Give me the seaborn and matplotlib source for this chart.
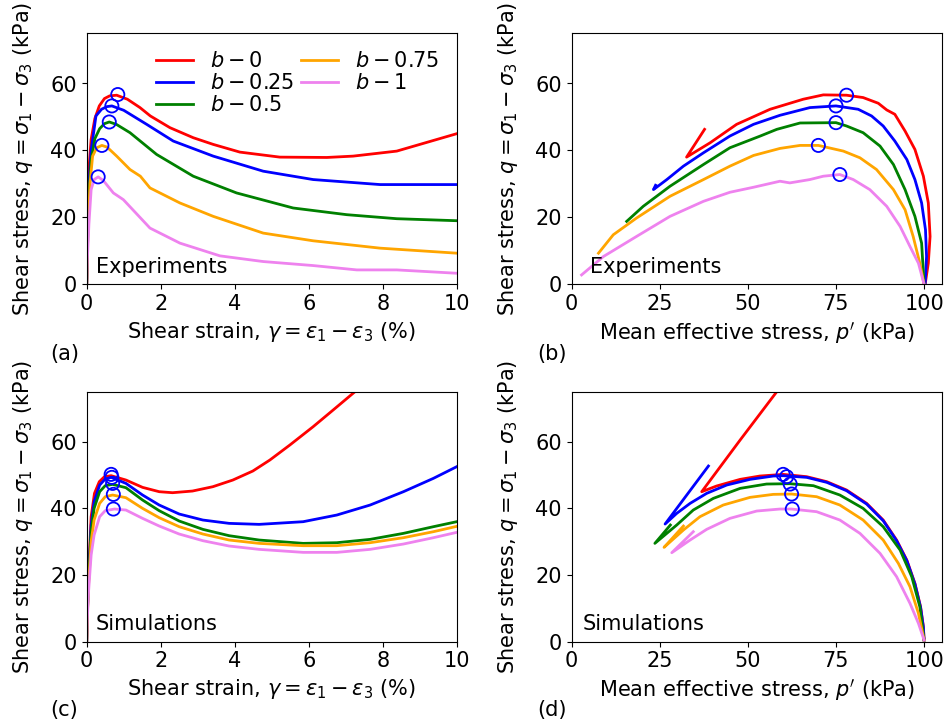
import numpy as np
import pandas as pd
import matplotlib
matplotlib.use("Agg")
import matplotlib.pyplot as plt
import seaborn as sns

labels = ["$b-0$", "$b-0.25$", "$b-0.5$", "$b-0.75$", "$b-1$"]
colors = ["red", "blue", "green", "orange", "violet"]

# ---------- (a) experiments: strain vs q ----------
exp_g_b0 = [0, 0.05, 0.12, 0.22, 0.34, 0.48, 0.62, 0.81, 1.1, 1.44, 1.72, 2.25, 2.88, 3.42, 4.14, 5.22, 6.49, 7.2, 8.38, 10]
exp_q_b0 = [0, 33, 43.3, 49.5, 53.3, 55.5, 56.3, 56.5, 55.3, 52.8, 50.3, 46.8, 43.8, 41.8, 39.5, 38, 37.9, 38.3, 39.8, 45]
exp_g_b025 = [0, 0.05, 0.12, 0.25, 0.4, 0.55, 0.68, 1.0, 1.62, 2.34, 3.42, 4.77, 6.12, 7.93, 10]
exp_q_b025 = [0, 28, 40, 50.3, 52.3, 53.1, 53.3, 52, 47.8, 42.8, 38.3, 33.8, 31.3, 29.8, 29.8]
exp_g_b05 = [0, 0.05, 0.12, 0.22, 0.35, 0.48, 0.61, 0.8, 1.17, 1.89, 2.88, 4.05, 5.58, 7.03, 8.38, 10]
exp_q_b05 = [0, 25, 37, 43.5, 46.5, 48, 48.5, 47.8, 45.3, 38.8, 32.3, 27.3, 22.8, 20.8, 19.6, 19.0]
exp_g_b075 = [0, 0.03, 0.09, 0.16, 0.27, 0.41, 0.55, 0.81, 1.17, 1.45, 1.71, 2.52, 3.42, 4.77, 6.12, 7.93, 10]
exp_q_b075 = [0, 15, 30.3, 38.3, 40.8, 41.5, 41, 38.3, 34.3, 32.3, 28.8, 24.3, 20.3, 15.3, 13, 10.8, 9.3]
exp_g_b1 = [0, 0.02, 0.06, 0.12, 0.2, 0.31, 0.45, 0.72, 0.99, 1.71, 2.52, 3.6, 4.77, 6.12, 7.3, 8.38, 10]
exp_q_b1 = [0, 8, 18, 28.3, 31.3, 32.1, 31, 27.3, 25.3, 16.8, 12.3, 8.5, 6.8, 5.6, 4.3, 4.3, 3.3]

exp_peak_g = [0.84, 0.68, 0.61, 0.41, 0.31]
exp_peak_q = [56.7, 53.3, 48.5, 41.5, 32.1]

# ---------- (b) experiments: p' vs q ----------
exp_p_b0 = [100.3, 101.2, 101.7, 101.2, 99.8, 97.4, 94.6, 91.7, 89.4, 87.0, 82.7, 78.0, 71.4, 65.7, 56.3, 46.8, 39.3, 32.6, 37.7]
exp_pq_b0 = [0, 6.3, 14.3, 24.3, 32.3, 40.3, 45.8, 50.8, 52.1, 54.1, 55.8, 56.5, 56.6, 55.3, 52.3, 47.8, 42.3, 38, 46.3]
exp_p_b025 = [100.3, 100.7, 100.4, 99.3, 97.4, 95.1, 91.7, 88.4, 85.1, 81.3, 75.0, 67.6, 59.1, 51.6, 44.9, 37.4, 31.7, 27, 23.2, 23.8]
exp_pq_b025 = [0, 8.3, 16.3, 24.3, 31.3, 37.3, 42.8, 47.3, 50.3, 52.3, 53.3, 52.8, 50.5, 47.8, 44.3, 39.3, 35.3, 31.3, 28.3, 29.6]
exp_p_b05 = [100, 99.3, 97.4, 94.6, 91.3, 87.5, 82.7, 78.0, 75.0, 64.8, 58.2, 53.5, 44.9, 37.4, 27.9, 20.3, 15.6]
exp_pq_b05 = [0, 12.3, 20.3, 28.3, 35.8, 41.3, 45.3, 47.3, 48.3, 48.2, 46.3, 44.3, 40.8, 35.8, 29.3, 23.3, 18.8]
exp_p_b075 = [100, 98.8, 96.9, 94.6, 91.3, 86.5, 81.8, 77.1, 70, 64.8, 59.1, 51.6, 44.9, 37.4, 27.9, 18.4, 11.8, 7.6]
exp_pq_b075 = [0, 6.3, 14.3, 22.3, 28.3, 34.3, 37.8, 39.8, 41.5, 41.5, 40.6, 38.5, 35.3, 31.3, 26.3, 19.8, 14.8, 9.3]
exp_p_b1 = [100, 98.4, 96.0, 93.2, 89.4, 84.6, 79.9, 76.1, 71.4, 67.6, 61.9, 59.1, 51.6, 44.9, 37.4, 27.9, 18.4, 9, 2.8]
exp_pq_b1 = [0, 6.3, 11.3, 17.3, 23.3, 28.3, 31.3, 32.8, 32.3, 31.3, 30.3, 30.8, 29, 27.5, 24.8, 20.3, 14.3, 8.3, 2.8]

exp_peak_p = [78.0, 75.0, 75.0, 70.0, 76.1]
exp_peak_pq = [56.5, 53.3, 48.3, 41.5, 32.8]

# ---------- (c) simulations: strain vs q ----------
sim_g_b0 = [0, 0.02, 0.05, 0.12, 0.21, 0.34, 0.48, 0.66, 1.06, 1.51, 1.96, 2.32, 2.86, 3.41, 3.95, 4.49, 4.95, 5.49, 6.12, 6.66, 7.25]
sim_q_b0 = [0, 10, 20, 37.5, 44.5, 48, 49.5, 49.8, 48.5, 46.3, 45, 44.7, 45.2, 46.5, 48.5, 51.2, 54.5, 59, 64.5, 69.5, 75]
sim_g_b025 = [0, 0.02, 0.05, 0.12, 0.2, 0.35, 0.5, 0.66, 1.06, 1.51, 1.96, 2.5, 3.14, 3.85, 4.66, 5.85, 6.76, 7.66, 8.56, 9.37, 10]
sim_q_b025 = [0, 9.5, 19, 35, 42, 47, 48.8, 49.3, 47.5, 44, 41, 38.3, 36.5, 35.5, 35.2, 36, 38, 41, 45, 49, 52.5]
sim_g_b05 = [0, 0.02, 0.05, 0.12, 0.2, 0.35, 0.5, 0.7, 1.06, 1.51, 1.96, 2.5, 3.14, 3.85, 4.66, 5.85, 6.76, 7.66, 8.56, 9.37, 10]
sim_q_b05 = [0, 9, 18, 33, 40, 45, 46.8, 47.2, 46.2, 42.5, 39.3, 36.2, 33.7, 31.8, 30.5, 29.5, 29.7, 30.7, 32.5, 34.5, 36]
sim_g_b075 = [0, 0.02, 0.05, 0.12, 0.2, 0.35, 0.5, 0.7, 1.06, 1.51, 1.96, 2.5, 3.14, 3.85, 4.66, 5.85, 6.76, 7.66, 8.56, 9.37, 10]
sim_q_b075 = [0, 8.5, 17, 30, 36.5, 41.5, 43.5, 44, 43.2, 40, 37.2, 34.5, 32.3, 30.5, 29.5, 28.8, 28.8, 29.7, 31.2, 33, 34.6]
sim_g_b1 = [0, 0.02, 0.05, 0.12, 0.2, 0.35, 0.5, 0.75, 1.06, 1.51, 1.96, 2.5, 3.14, 3.85, 4.66, 5.85, 6.76, 7.66, 8.56, 9.37, 10]
sim_q_b1 = [0, 7.5, 15, 26, 32, 37.5, 39.3, 39.8, 39.5, 37, 34.7, 32.3, 30.3, 28.7, 27.7, 26.8, 26.8, 27.7, 29.3, 31.2, 32.8]

sim_peak_g = [0.66, 0.68, 0.70, 0.72, 0.72]
sim_peak_q = [50.2, 49.3, 47.5, 44.2, 39.8]

# ---------- (d) simulations: p' vs q ----------
sim_p_b0 = [100, 99.8, 99.0, 97.4, 95.1, 92.2, 88.4, 83.7, 78.0, 72.4, 66.7, 60.0, 53.4, 47.8, 41.1, 36.9, 47.8, 58.2]
sim_pq_b0 = [0.5, 4.5, 10.5, 17.5, 24.5, 30.5, 36.5, 41.5, 45.5, 48, 49.5, 50.2, 49.7, 48.7, 46.7, 45, 60.5, 75]
sim_p_b025 = [100, 99.8, 99.0, 97.4, 95.1, 92.2, 88.4, 83.7, 78.0, 72.4, 66.7, 60.1, 57.2, 50.6, 44.0, 38.3, 33.6, 29.8, 26.5, 38.8]
sim_pq_b025 = [0.5, 4.3, 10.3, 17.3, 24.3, 30.3, 36.3, 41.3, 45.3, 47.8, 49.3, 49.8, 49.7, 48.7, 47, 44.5, 41.5, 38.5, 35.3, 52.7]
sim_p_b05 = [100, 98.8, 96.5, 93.2, 88.4, 82.7, 76.1, 68.6, 61.9, 55.3, 47.8, 40.2, 34.5, 29.8, 23.6, 28.0]
sim_pq_b05 = [0.5, 10.5, 19.5, 27.5, 34.5, 40, 44, 46.8, 47.4, 47.3, 46, 43, 39.5, 35, 29.5, 35.0]
sim_p_b075 = [100, 98.4, 96.0, 92.7, 88.4, 82.7, 76.1, 69.5, 62.4, 57.2, 50.6, 43.0, 36.4, 31.7, 26.2, 31.7]
sim_pq_b075 = [0.5, 8.5, 16.5, 23.5, 30.5, 36.5, 41, 43.5, 44.3, 44.2, 43.3, 41, 37.5, 33.5, 28.3, 34.7]
sim_p_b1 = [100, 98.4, 96.0, 92.2, 87.5, 81.8, 76.1, 69.5, 62.4, 59.1, 52.5, 44.9, 38.3, 33.6, 28.4, 34.5]
sim_pq_b1 = [0.5, 5.5, 11.5, 19.5, 26.5, 32.5, 36.5, 39, 39.8, 39.8, 39.2, 37, 33.7, 30.5, 26.7, 33]

sim_peak_p = [60.0, 61.0, 62.0, 62.4, 62.6]
sim_peak_pq = [50.2, 49.5, 47.3, 44.3, 39.8]

plt.rcParams['font.family'] = ['DejaVu Sans']
plt.rcParams['font.size'] = 15
plt.rcParams['mathtext.fontset'] = 'dejavusans'

W, H = 949, 725
fig = plt.figure(figsize=(W / 100, H / 100), dpi=100)

def fx(px):
    return px / W

def fy(py):
    return 1 - py / H

ax_a = fig.add_axes([fx(86.7), fy(284.3), fx(456.7) - fx(86.7), fy(33.3) - fy(284.3)])
ax_b = fig.add_axes([fx(571.7), fy(284.3), fx(941.7) - fx(571.7), fy(33.3) - fy(284.3)])
ax_c = fig.add_axes([fx(86.7), fy(641.7), fx(456.7) - fx(86.7), fy(391.7) - fy(641.7)])
ax_d = fig.add_axes([fx(571.7), fy(641.7), fx(941.7) - fx(571.7), fy(391.7) - fy(641.7)])

def draw(ax, xs, ys, px, py, show_legend=False):
    for x, y, c, lab in zip(xs, ys, colors, labels):
        df = pd.DataFrame({"x": x, "y": y})
        sns.lineplot(data=df, x="x", y="y", sort=False, estimator=None, color=c,
                     linewidth=2.0, ax=ax, label=lab if show_legend else None, legend=False)
    sns.scatterplot(x=px, y=py, ax=ax, marker="o", s=90, facecolor="none",
                    edgecolor="blue", linewidth=1.3, legend=False, zorder=5)

ylab = "Shear stress, $q=\\sigma_1-\\sigma_3$ (kPa)"
xlab_g = "Shear strain, $\\gamma=\\varepsilon_1-\\varepsilon_3$ (%)"
xlab_p = "Mean effective stress, $p'$ (kPa)"

draw(ax_a, [exp_g_b0, exp_g_b025, exp_g_b05, exp_g_b075, exp_g_b1],
     [exp_q_b0, exp_q_b025, exp_q_b05, exp_q_b075, exp_q_b1], exp_peak_g, exp_peak_q, True)
draw(ax_b, [exp_p_b0, exp_p_b025, exp_p_b05, exp_p_b075, exp_p_b1],
     [exp_pq_b0, exp_pq_b025, exp_pq_b05, exp_pq_b075, exp_pq_b1], exp_peak_p, exp_peak_pq)
draw(ax_c, [sim_g_b0, sim_g_b025, sim_g_b05, sim_g_b075, sim_g_b1],
     [sim_q_b0, sim_q_b025, sim_q_b05, sim_q_b075, sim_q_b1], sim_peak_g, sim_peak_q)
draw(ax_d, [sim_p_b0, sim_p_b025, sim_p_b05, sim_p_b075, sim_p_b1],
     [sim_pq_b0, sim_pq_b025, sim_pq_b05, sim_pq_b075, sim_pq_b1], sim_peak_p, sim_peak_pq)

for ax in (ax_a, ax_c):
    ax.set_xlim(0, 10)
    ax.set_xticks([0, 2, 4, 6, 8, 10])
    ax.set_xlabel(xlab_g)
for ax in (ax_b, ax_d):
    ax.set_xlim(0, 105)
    ax.set_xticks([0, 25, 50, 75, 100])
    ax.set_xlabel(xlab_p)
for ax in (ax_a, ax_b, ax_c, ax_d):
    ax.set_ylim(0, 75)
    ax.set_yticks([0, 20, 40, 60])
    ax.set_ylabel(ylab, labelpad=11)

ax_a.text(0.025, 0.03, "Experiments", transform=ax_a.transAxes, ha="left", va="bottom")
ax_b.text(0.05, 0.03, "Experiments", transform=ax_b.transAxes, ha="left", va="bottom")
ax_c.text(0.025, 0.03, "Simulations", transform=ax_c.transAxes, ha="left", va="bottom")
ax_d.text(0.03, 0.03, "Simulations", transform=ax_d.transAxes, ha="left", va="bottom")

ax_a.legend(ncol=2, frameon=False, loc="upper right", bbox_to_anchor=(0.985, 0.98),
            handlelength=1.8, columnspacing=0.3, labelspacing=0.1, handletextpad=0.8,
            borderaxespad=0.2)

fig.text(fx(50), fy(360), "(a)", ha="left", va="baseline")
fig.text(fx(537), fy(360), "(b)", ha="left", va="baseline")
fig.text(fx(50), fy(716), "(c)", ha="left", va="baseline")
fig.text(fx(537), fy(716), "(d)", ha="left", va="baseline")

fig.savefig("out.png", dpi=100)
